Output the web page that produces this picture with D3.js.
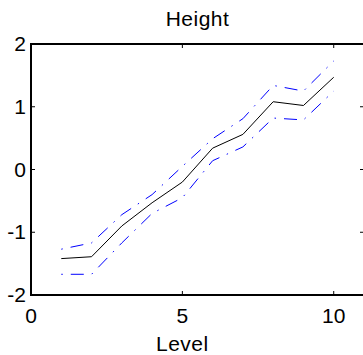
<!DOCTYPE html>
<html>
<head>
<meta charset="utf-8">
<script src="https://cdn.jsdelivr.net/npm/d3@7"></script>
<style>
    body { margin: 0; background: #fff; }
    svg { display: block; font-family: "Liberation Sans", Arial, sans-serif; }
</style>
</head>
<body>
<div id="chart"></div>
<script>
// values
const levels = [1, 2, 3, 4, 5, 6, 7, 8, 9, 10]
const estimate = [-1.42, -1.39, -0.90, -0.53, -0.20, 0.34, 0.56, 1.08, 1.02, 1.47]
const upper = [-1.27, -1.17, -0.72, -0.40, 0.05, 0.49, 0.81, 1.34, 1.25, 1.73]
const lower = [-1.67, -1.67, -1.17, -0.70, -0.45, 0.14, 0.36, 0.82, 0.79, 1.25]
const xTicks = [0, 5, 10]
const yTicks = [-2, -1, 0, 1, 2]

const width = 363
const height = 355
const margin = {top: 44, right: -1, bottom: 60, left: 31}

const svg = d3
    .select("#chart")
    .append("svg")
    .attr("width", width)
    .attr("height", height)

const x = d3
    .scaleLinear()
    .domain([0, 11])
    .range([margin.left, width - margin.right])

const y = d3
    .scaleLinear()
    .domain([-2, 2])
    .range([height - margin.bottom, margin.top])

const fontSize = 21

// inward ticks on all four sides
const tickLen = 4
const axisG = svg.append("g").attr("stroke", "#000")

xTicks.forEach((t) => {
    axisG.append("line")
        .attr("x1", x(t)).attr("x2", x(t))
        .attr("y1", y(-2)).attr("y2", y(-2) - tickLen)
    axisG.append("line")
        .attr("x1", x(t)).attr("x2", x(t))
        .attr("y1", y(2)).attr("y2", y(2) + tickLen)
})
yTicks.forEach((t) => {
    axisG.append("line")
        .attr("x1", x(0)).attr("x2", x(0) + tickLen)
        .attr("y1", y(t)).attr("y2", y(t))
    axisG.append("line")
        .attr("x1", x(11)).attr("x2", x(11) - tickLen)
        .attr("y1", y(t)).attr("y2", y(t))
})

// box
axisG.append("rect")
    .attr("x", x(0))
    .attr("y", y(2))
    .attr("width", x(11) - x(0))
    .attr("height", y(-2) - y(2))
    .attr("fill", "none")
    .attr("stroke-width", 2)

// tick labels
svg.append("g")
    .selectAll("text")
    .data(xTicks)
    .join("text")
    .attr("x", (d) => x(d))
    .attr("y", y(-2) + 28)
    .attr("text-anchor", "middle")
    .attr("font-size", fontSize)
    .text((d) => d)

svg.append("g")
    .selectAll("text")
    .data(yTicks)
    .join("text")
    .attr("x", x(0) - 5)
    .attr("y", (d) => y(d) + 7)
    .attr("text-anchor", "end")
    .attr("font-size", fontSize)
    .text((d) => d)

// title and label
svg.append("text")
    .attr("x", (x(0) + x(11)) / 2)
    .attr("y", 26)
    .attr("text-anchor", "middle")
    .attr("font-size", fontSize)
    .attr("letter-spacing", 0.5)
    .text("Height")

svg.append("text")
    .attr("x", x(5))
    .attr("y", 351)
    .attr("text-anchor", "middle")
    .attr("font-size", fontSize)
    .attr("letter-spacing", 0.5)
    .text("Level")

const line = (vals) =>
    d3.line()
        .x((d, i) => x(levels[i]))
        .y((d) => y(d))(vals)

const plot = svg.append("g").attr("fill", "none")

plot.append("path")
    .attr("d", line(upper))
    .attr("stroke", "#0000ff")
    .attr("stroke-width", 1)
    .attr("stroke-dasharray", "1.5,8,13,8")

plot.append("path")
    .attr("d", line(lower))
    .attr("stroke", "#0000ff")
    .attr("stroke-width", 1)
    .attr("stroke-dasharray", "1.5,8,13,8")

plot.append("path")
    .attr("d", line(estimate))
    .attr("stroke", "#000")
    .attr("stroke-width", 1)
</script>
</body>
</html>
